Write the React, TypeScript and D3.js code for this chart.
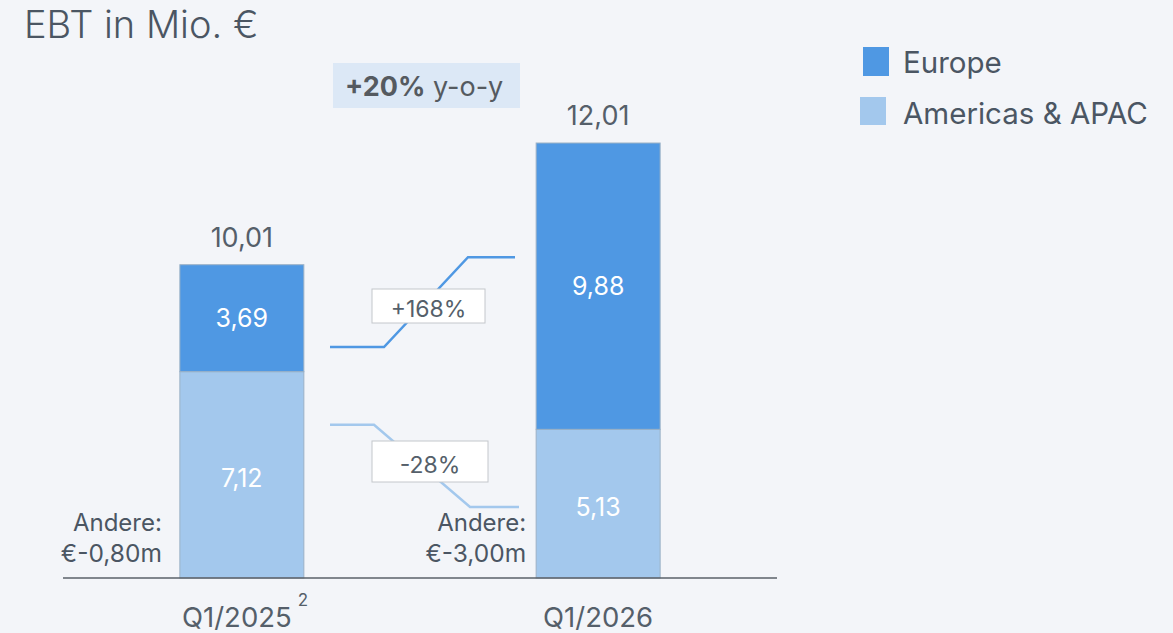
import React from "react";
import * as d3 from "d3";

const categories = ["Q1/2025", "Q1/2026"];
const europe = [3.69, 9.88];
const americas = [7.12, 5.13];
const totals = ["10,01", "12,01"];
const others = ["€-0,80m", "€-3,00m"];
const superscripts = ["2", ""];
const seriesNames = ["Europe", "Americas & APAC"];
const growthLabels = ["+168%", "-28%"];
// annotation connector anchors in data units: [left y, right y]
const europeConnector = [7.97, 11.07];
const americasConnector = [5.29, 2.45];

const W = 1173;
const H = 633;
const FONT = "Inter, 'Noto Sans', sans-serif";
const TXT = "#4b5663";
const C_EU = "#4f98e3";
const C_AM = "#a3c8ed";
const andereGap = [18, 10];

const fmt = (v: number) => v.toFixed(2).replace(".", ",");

export default function App() {
  const x = d3
    .scaleBand<string>()
    .domain(categories)
    .range([63, 777])
    .paddingInner(0.652)
    .paddingOuter(0.328);
  const y = d3.scaleLinear().domain([0, 15.01]).range([578, 143]);
  const bw = x.bandwidth();

  const line = d3.line<[number, number]>();
  const euPath = line([
    [330, y(europeConnector[0])],
    [384, y(europeConnector[0])],
    [468, y(europeConnector[1])],
    [515, y(europeConnector[1])],
  ]);
  const amPath = line([
    [330, y(americasConnector[0])],
    [374, y(americasConnector[0])],
    [470, y(americasConnector[1])],
    [519, y(americasConnector[1])],
  ]);

  return (
    <svg
      width={W}
      height={H}
      style={{ position: "absolute", left: 0, top: 0, background: "#f3f5f9", fontFamily: FONT }}
    >
      <rect x={0} y={0} width={W} height={H} fill="#f3f5f9" />
      <text x={24} y={38} fontSize={38} fill={TXT} fontWeight={300}>
        EBT in Mio. €
      </text>

      {/* y-o-y badge */}
      <rect x={333} y={63} width={187} height={45} fill="#dce8f6" />
      <text x={345} y={96} fontSize={27} fill="#555a60">
        <tspan fontWeight={700}>+20%</tspan>
        <tspan> y-o-y</tspan>
      </text>

      {/* legend */}
      <rect x={863} y={47} width={26} height={29} fill={C_EU} />
      <text x={903} y={73} fontSize={29.5} fill={TXT}>
        {seriesNames[0]}
      </text>
      <rect x={860} y={97} width={26} height={28} fill={C_AM} />
      <text x={903} y={124} fontSize={29.5} fill={TXT}>
        {seriesNames[1]}
      </text>

      {/* connectors */}
      <path d={euPath || ""} fill="none" stroke={C_EU} strokeWidth={2.5} />
      <path d={amPath || ""} fill="none" stroke={C_AM} strokeWidth={2.5} />
      <rect x={372} y={289} width={113} height={34} fill="#ffffff" stroke="#c4c7cc" strokeWidth={1} />
      <text x={428.5} y={317} fontSize={23} fill="#555f6a" textAnchor="middle">
        {growthLabels[0]}
      </text>
      <rect x={372} y={441} width={116} height={41} fill="#ffffff" stroke="#c4c7cc" strokeWidth={1} />
      <text x={430} y={473} fontSize={23} fill="#555f6a" textAnchor="middle">
        {growthLabels[1]}
      </text>

      {/* bars */}
      {categories.map((c, i) => {
        const x0 = x(c) as number;
        const cx = x0 + bw / 2;
        const yAm = y(americas[i]);
        const yTop = y(americas[i] + europe[i]);
        return (
          <g key={c}>
            <rect x={x0} y={yAm} width={bw} height={y(0) - yAm} fill={C_AM} stroke="#9bb1c6" strokeWidth={1} />
            <rect x={x0} y={yTop} width={bw} height={yAm - yTop} fill={C_EU} stroke="#9bb1c6" strokeWidth={1} />
            <text x={cx} y={(yAm + yTop) / 2 + 9} fontSize={25} fill="#ffffff" textAnchor="middle">
              {fmt(europe[i])}
            </text>
            <text x={cx} y={(yAm + y(0)) / 2 + 12} fontSize={25} fill="#ffffff" textAnchor="middle">
              {fmt(americas[i])}
            </text>
            <text x={cx} y={yTop - 18} fontSize={27} fill="#555f6a" textAnchor="middle">
              {totals[i]}
            </text>
            <text x={x0 - andereGap[i]} y={531} fontSize={24} fill={TXT} textAnchor="end">
              Andere:
            </text>
            <text x={x0 - andereGap[i]} y={562} fontSize={24.5} fill={TXT} textAnchor="end">
              {others[i]}
            </text>
            <text x={cx - (superscripts[i] ? 5 : 0)} y={627} fontSize={27.5} fill="#555f6a" textAnchor="middle">
              {c}
            </text>
            {superscripts[i] && (
              <text x={cx + 61} y={606} fontSize={17} fill="#555f6a" textAnchor="middle">
                {superscripts[i]}
              </text>
            )}
          </g>
        );
      })}

      {/* baseline */}
      <line x1={63} x2={777} y1={y(0)} y2={y(0)} stroke="#5a6068" strokeWidth={1.5} />
    </svg>
  );
}
